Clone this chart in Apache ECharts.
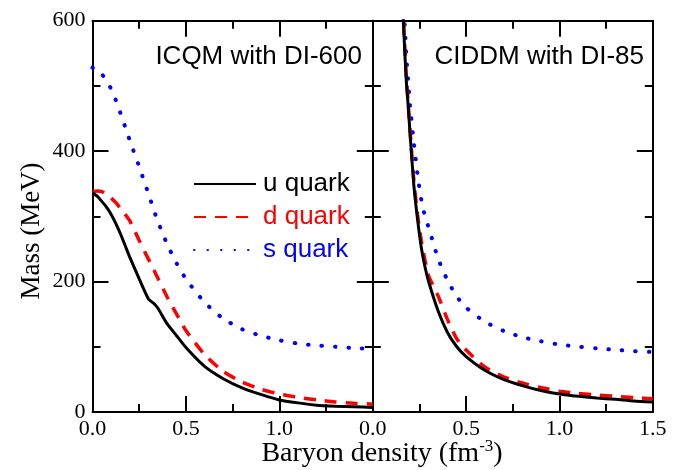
<!DOCTYPE html>
<html>
<head>
<meta charset="utf-8">
<script src="https://cdn.jsdelivr.net/npm/echarts@6/dist/echarts.min.js"></script>
<style>
  html, body { margin: 0; padding: 0; background: #fff; }
  #chart { width: 696px; height: 470px; }
</style>
</head>
<body>
<div id="chart"></div>
<script>
// Quark masses (MeV) versus baryon density (fm^-3)

// ICQM with DI-600
const icqmDensity = [0, 0.025, 0.05, 0.075, 0.1, 0.125, 0.15, 0.175, 0.2, 0.25, 0.3, 0.33, 0.35, 0.4, 0.45, 0.5, 0.6, 0.7, 0.8, 0.9, 1.0, 1.1, 1.2, 1.3, 1.4, 1.5];
const icqmU = [336, 331, 323, 314, 303, 289, 273, 255, 237, 204, 173, 166, 159, 135, 117, 99, 70, 51, 37, 27, 18.5, 14, 10.5, 9, 8, 7];
const icqmD = [338, 339, 338, 334, 328, 321, 312, 303, 293, 263, 234, 217, 205, 176, 150, 125, 88, 62, 46, 35, 27.5, 22.5, 18.5, 15.5, 13.5, 12];
const icqmS = [528, 525, 518, 508, 495, 478, 458, 437, 416, 376, 334, 308, 292, 257, 228, 204, 168, 143, 127, 117, 110, 105, 102, 100, 98, 97];

// CIDDM with DI-85
const ciddmDensity = [0.15, 0.16, 0.17, 0.18, 0.19, 0.2, 0.22, 0.24, 0.26, 0.28, 0.3, 0.35, 0.4, 0.45, 0.5, 0.6, 0.7, 0.8, 0.9, 1.0, 1.1, 1.2, 1.3, 1.4, 1.5];
const ciddmU = [720, 625, 560, 505, 468, 425, 347, 295, 252, 222, 199, 155, 122, 100, 85, 64, 50, 40.5, 33, 27.5, 24, 21.5, 19.5, 17, 15.5];
const ciddmD = [725, 630, 568, 512, 472, 430, 355, 302, 262, 232, 208, 178, 142, 112, 95, 69, 54, 44.5, 37.5, 32, 28.5, 26, 24, 22, 20.5];
const ciddmS = [760, 665, 600, 545, 505, 470, 412, 363, 325, 300, 282, 235, 202, 177, 160, 138.5, 124.5, 114.8, 108.5, 103.4, 100.2, 97.6, 95.3, 93.3, 92];

// Axis ticks
const xTicks = [0, 0.5, 1.0, 1.5];
const yTicks = [0, 200, 400, 600];

const quarkNames = ['u quark', 'd quark', 's quark'];
const quarkColors = ['#000000', '#ff0000', '#0000ff'];
const panelTitles = ['ICQM with DI-600', 'CIDDM with DI-85'];

const serif = '"Liberation Serif", "Times New Roman", serif';
const sans = '"Liberation Sans", Arial, sans-serif';

const pair = (xs, ys) => xs.map((x, i) => [x, ys[i]]);

const lineStyles = [
  { color: quarkColors[0], width: 3, type: 'solid' },
  { color: quarkColors[1], width: 3.5, type: [12, 9] },
  { color: quarkColors[2], width: 4, type: [0.5, 13], cap: 'round' }
];

function xAxisDef(grid, position, labels, hideLast) {
  return {
    type: 'value', gridIndex: grid, position: position,
    min: xTicks[0], max: xTicks[xTicks.length - 1], interval: 0.5,
    axisLine: { show: true, onZero: false, lineStyle: { color: '#000', width: 2 } },
    axisTick: { show: true, inside: true, length: 16, lineStyle: { color: '#000', width: 2 } },
    minorTick: { show: true, splitNumber: 2, length: 8, lineStyle: { color: '#000', width: 2 } },
    splitLine: { show: false },
    axisLabel: {
      show: labels, margin: 6, color: '#000', fontFamily: serif, fontSize: 22,
      showMinLabel: true, showMaxLabel: !hideLast,
      formatter: v => (hideLast && v === 1.5) ? '' : v.toFixed(1)
    }
  };
}

function yAxisDef(grid, position, labels) {
  return {
    type: 'value', gridIndex: grid, position: position,
    min: yTicks[0], max: yTicks[yTicks.length - 1], interval: 200,
    axisLine: { show: true, onZero: false, lineStyle: { color: '#000', width: 2 } },
    axisTick: { show: true, inside: true, length: 16, lineStyle: { color: '#000', width: 2 } },
    minorTick: { show: true, splitNumber: 2, length: 8, lineStyle: { color: '#000', width: 2 } },
    splitLine: { show: false },
    axisLabel: { show: labels, margin: 7, color: '#000', fontFamily: serif, fontSize: 22 }
  };
}

function panelSeries(xIdx, yIdx, xs, sets) {
  return sets.map((ys, k) => ({
    name: quarkNames[k],
    type: 'line',
    xAxisIndex: xIdx, yAxisIndex: yIdx,
    data: pair(xs, ys),
    smooth: 0.2,
    symbol: 'none',
    clip: true,
    itemStyle: { color: quarkColors[k] },
    lineStyle: lineStyles[k],
    z: 3 - k
  }));
}

const chart = echarts.init(document.getElementById('chart'), null, { renderer: 'canvas' });

chart.setOption({
  animation: false,
  backgroundColor: '#fff',
  grid: [
    { left: 92.5, top: 20.7, width: 280.3, height: 391.3 },
    { left: 372.8, top: 20.7, width: 280, height: 391.3 }
  ],
  xAxis: [
    xAxisDef(0, 'bottom', true, true),
    xAxisDef(0, 'top', false, false),
    xAxisDef(1, 'bottom', true, false),
    xAxisDef(1, 'top', false, false)
  ],
  yAxis: [
    yAxisDef(0, 'left', true),
    yAxisDef(0, 'right', false),
    yAxisDef(1, 'left', false),
    yAxisDef(1, 'right', false)
  ],
  legend: {
    show: true,
    orient: 'vertical',
    left: 193, top: 171, padding: 0,
    itemWidth: 62, itemHeight: 14, itemGap: 7,
    selectedMode: false,
    itemStyle: { opacity: 0 },
    textStyle: { fontFamily: sans, fontSize: 26, lineHeight: 26, padding: [0, 0, 0, 2] },
    data: quarkNames.map((n, k) => ({ name: n, textStyle: { color: quarkColors[k] } }))
  },
  graphic: [
    {
      type: 'text', x: 362, y: 57,
      style: { text: panelTitles[0], font: '26px ' + sans, fill: '#000', align: 'right', verticalAlign: 'middle' }
    },
    {
      type: 'text', x: 644, y: 57,
      style: { text: panelTitles[1], font: '26px ' + sans, fill: '#000', align: 'right', verticalAlign: 'middle' }
    },
    {
      type: 'text', x: 32, y: 231, rotation: Math.PI / 2,
      style: { text: 'Mass (MeV)', font: '27px ' + serif, fill: '#000', align: 'center', verticalAlign: 'middle' }
    },
    {
      type: 'text', x: 382, y: 454,
      style: {
        text: '{a|Baryon density (fm}{b|-3}{a|)}',
        align: 'center', verticalAlign: 'middle',
        rich: {
          a: { fontFamily: serif, fontSize: 28, lineHeight: 32, fill: '#000', color: '#000' },
          b: { fontFamily: serif, fontSize: 17, verticalAlign: 'top', fill: '#000', color: '#000' }
        }
      }
    }
  ],
  series: [
    ...panelSeries(0, 0, icqmDensity, [icqmU, icqmD, icqmS]),
    ...panelSeries(2, 2, ciddmDensity, [ciddmU, ciddmD, ciddmS])
  ]
});
</script>
</body>
</html>
